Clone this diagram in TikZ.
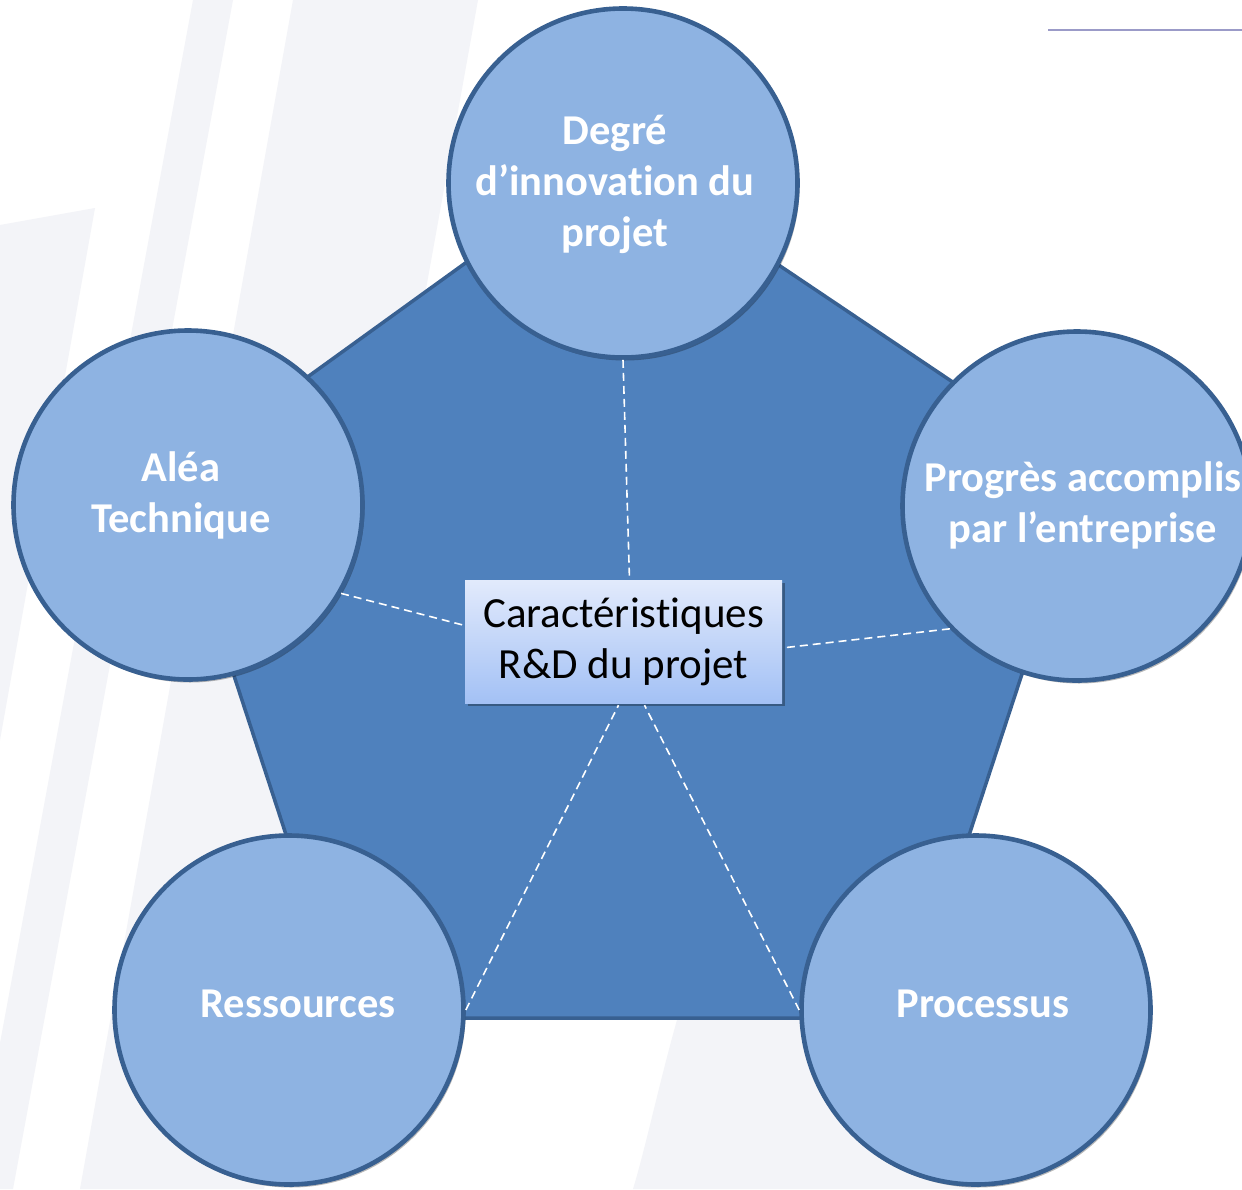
\documentclass[tikz,border=0pt]{standalone}
\usepackage{fontspec}
\setmainfont{Carlito}[Ligatures=NoCommon]
\usetikzlibrary{shadows}
\definecolor{bgband}{RGB}{243,244,248}
\definecolor{pentfill}{RGB}{79,129,189}
\definecolor{darkedge}{RGB}{56,96,145}
\definecolor{circfill}{RGB}{142,179,226}
\definecolor{boxtop}{RGB}{226,234,252}
\definecolor{boxbot}{RGB}{163,193,245}
\definecolor{lavline}{RGB}{155,155,200}
\begin{document}
\begin{tikzpicture}[x=1pt,y=-1pt,
  pentashape/.style={fill=pentfill, draw=darkedge, line width=3.5pt, line join=miter},
  bubble/.style={circle, draw=darkedge, line width=4.6pt, fill=circfill, minimum size=349pt, inner sep=0pt,
    drop shadow={shadow xshift=2pt, shadow yshift=-3pt, opacity=0.28, fill=black}},
  bubbletext/.style={text=white, font=\fontsize{42.5}{51}\selectfont\bfseries, align=center, inner sep=0pt},
  centerbox/.style={minimum width=317pt, minimum height=123pt, inner sep=0pt, top color=boxtop, bottom color=boxbot,
    align=center, font=\fontsize{43}{51}\selectfont, text=black,
    drop shadow={shadow xshift=3pt, shadow yshift=-3pt, opacity=0.3, fill=black}},
  link/.style={draw=white, line width=1.6pt, dash pattern=on 8pt off 5pt}
]
\useasboundingbox (0,0) rectangle (1242,1189);
\fill[white] (0,0) rectangle (1242,1189);
% faint background bands
\fill[bgband] (193,0) -- (233,0) -- (13,1189) -- (-27,1189) -- cycle;
\fill[bgband] (293,0) -- (478,0) -- (264,1189) -- (80,1189) -- cycle;
\fill[bgband] (0,225) -- (95,208) -- (0,740) -- cycle;
\fill[bgband] (735,700) .. controls (700,900) and (690,1000) .. (677,1020)
   .. controls (660,1080) and (645,1150) .. (633,1189) -- (976,1189) -- (900,700) -- cycle;
% top-right rule
\draw[lavline, line width=1.5pt] (1048,30) -- (1242,30);
% pentagon
\path[pentashape] (615,155) -- (1088,473) -- (909,1018) -- (346,1018) -- (169,477) -- cycle;
% circles
\node[bubble] (T) at (623,183) {};
\node[bubble] (L) at (188,505) {};
\node[bubble] (R) at (1077,506) {};
\node[bubble] (BL) at (289,1010) {};
\node[bubble] (BR) at (976,1010) {};
% centre box
\node[centerbox] (C) at (623.5,641.5) {Caractéristiques\\R\&D du projet};
% dashed links
\draw[link] (T.south) -- ([xshift=6pt]C.north);
\draw[link] (L.-30) -- ([yshift=16pt]C.west);
\draw[link] (R.224) -- ([xshift=4pt,yshift=-6pt]C.east);
\draw[link] (BL.east) -- ([xshift=-5pt,yshift=-2pt]C.south);
\draw[link] (BR.west) -- ([xshift=21pt,yshift=-2pt]C.south);
% circle labels
\node[bubbletext] (Tt) at (615,184) {Degré\\d’innovation du\\projet};
\node[bubbletext] (Lt) at (181,495) {Aléa\\Technique};
\node[bubbletext] (Rt) at (1083,505) {Progrès accomplis\\par l’entreprise};
\node[bubbletext, anchor=base] (BLt) at (298,1017) {Ressources};
\node[bubbletext, anchor=base] (BRt) at (983,1017) {Processus};
\end{tikzpicture}
\end{document}
